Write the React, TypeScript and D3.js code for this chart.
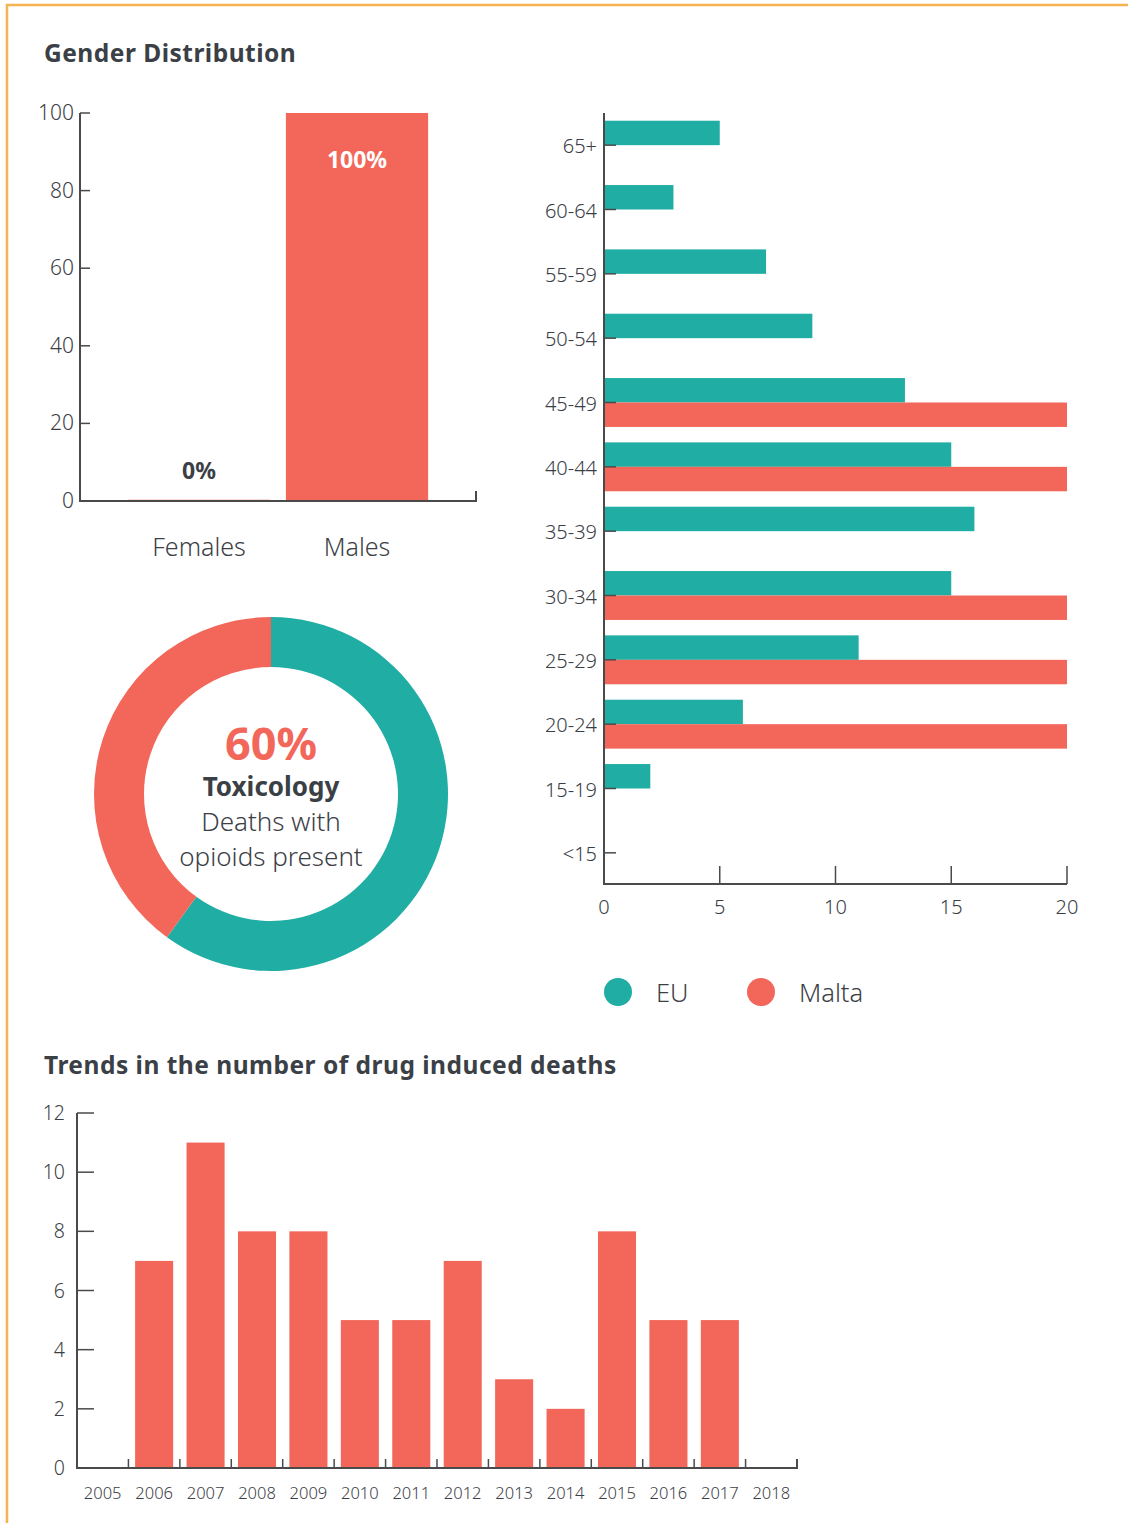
import React from "react";
import * as d3 from "d3";

const genderCats = ["Females", "Males"];
const genderVals = [0, 100];
const genderLabels = ["0%", "100%"];
const genderTicks = [0, 20, 40, 60, 80, 100];

const ageCats = ["65+", "60-64", "55-59", "50-54", "45-49", "40-44", "35-39", "30-34", "25-29", "20-24", "15-19", "<15"];
const euVals = [5, 3, 7, 9, 13, 15, 16, 15, 11, 6, 2, 0];
const maltaVals = [0, 0, 0, 0, 20, 20, 0, 20, 20, 20, 0, 0];
const ageTicks = [0, 5, 10, 15, 20];
const seriesNames = ["EU", "Malta"];

const toxShare = [60, 40];
const toxLabel = "60%";

const years = ["2005", "2006", "2007", "2008", "2009", "2010", "2011", "2012", "2013", "2014", "2015", "2016", "2017", "2018"];
const deaths = [0, 7, 11, 8, 8, 5, 5, 7, 3, 2, 8, 5, 5, 0];
const deathTicks = [0, 2, 4, 6, 8, 10, 12];

const TEAL = "#20ada3";
const RED = "#f2675a";
const TXT = "#3b4046";
const AX = "#4a4a4a";
const FONT = "'Noto Sans', 'Open Sans', sans-serif";

export default function App() {
  const gx = d3.scaleBand().domain(genderCats).range([80, 476]).paddingInner(0.1).paddingOuter(0.303);
  const gy = d3.scaleLinear().domain([0, 100]).range([501, 113]);

  const ay = d3.scaleBand().domain(ageCats).range([113, 885]).paddingInner(0.24).paddingOuter(0.12);
  const sub = d3.scaleBand().domain(seriesNames).range([0, ay.bandwidth()]);
  const ax = d3.scaleLinear().domain([0, 20]).range([604, 1067]);

  const pie = d3.pie<number>().sort(null)(toxShare);
  const arc = d3.arc<d3.PieArcDatum<number>>().innerRadius(127).outerRadius(177);

  const tx = d3.scaleBand().domain(years).range([77, 797]).paddingInner(0.26).paddingOuter(0.13);
  const ty = d3.scaleLinear().domain([0, 12]).range([1468, 1113]);
  const step = tx.step();

  return (
    <svg width={1128} height={1523} style={{ position: "absolute", left: 0, top: 0 }} fontFamily={FONT}>
      <rect width={1128} height={1523} fill="#fff" />
      <path d="M7,1523V5H1128" fill="none" stroke="#f5b352" strokeWidth={2.5} />

      <text x={44} y={62} fontSize={24.5} letterSpacing={0.5} fontWeight={700} fill={TXT}>Gender Distribution</text>

      {genderCats.map((c, i) => (
        <g key={c}>
          <rect x={gx(c)} y={gy(genderVals[i])} width={gx.bandwidth()} height={Math.max(0, gy(0) - gy(genderVals[i]))} fill={RED} />
          {genderVals[i] === 0 && (
            <line x1={gx(c)} x2={(gx(c) as number) + gx.bandwidth()} y1={gy(0) - 0.5} y2={gy(0) - 0.5} stroke={RED} strokeWidth={1.5} />
          )}
          <text
            x={(gx(c) as number) + gx.bandwidth() / 2}
            y={genderVals[i] === 0 ? gy(0) - 22 : gy(genderVals[i]) + 55}
            textAnchor="middle"
            fontSize={23}
            fontWeight={700}
            fill={genderVals[i] === 0 ? TXT : "#fff"}
          >
            {genderLabels[i]}
          </text>
          <text x={(gx(c) as number) + gx.bandwidth() / 2} y={556} textAnchor="middle" fontSize={25} fontWeight={300} fill={TXT}>{c}</text>
        </g>
      ))}
      <path d={`M80,${gy(100)}V${gy(0)}H476V${gy(0) - 10}`} fill="none" stroke={AX} strokeWidth={2} />
      {genderTicks.map((t) => (
        <g key={t}>
          <line x1={80} x2={90} y1={gy(t)} y2={gy(t)} stroke={AX} strokeWidth={1.5} />
          <text x={74} y={gy(t) + 7} textAnchor="end" fontSize={21} fontWeight={300} fill={TXT}>{t}</text>
        </g>
      ))}

      <g transform="translate(271,794)">
        {pie.map((p, i) => (
          <path key={i} d={arc(p) as string} fill={i === 0 ? TEAL : RED} />
        ))}
        <text y={-34} textAnchor="middle" fontSize={45} fontWeight={700} fill={RED}>{toxLabel}</text>
        <text y={2} textAnchor="middle" fontSize={26} fontWeight={700} fill={TXT}>Toxicology</text>
        <text y={37} textAnchor="middle" fontSize={26} fontWeight={300} fill={TXT}>Deaths with</text>
        <text y={72} textAnchor="middle" fontSize={26} fontWeight={300} fill={TXT}>opioids present</text>
      </g>

      {ageCats.map((c, i) => {
        const y0 = ay(c) as number;
        return (
          <g key={c}>
            {euVals[i] > 0 && (
              <rect x={ax(0)} y={y0 + (sub("EU") as number)} width={ax(euVals[i]) - ax(0)} height={sub.bandwidth()} fill={TEAL} />
            )}
            {maltaVals[i] > 0 && (
              <rect x={ax(0)} y={y0 + (sub("Malta") as number)} width={ax(maltaVals[i]) - ax(0)} height={sub.bandwidth()} fill={RED} />
            )}
            <line x1={604} x2={616} y1={y0 + ay.bandwidth() / 2} y2={y0 + ay.bandwidth() / 2} stroke={AX} strokeWidth={1.5} />
            <text x={597} y={y0 + ay.bandwidth() / 2 + 8} textAnchor="end" fontSize={20} fontWeight={300} fill={TXT}>{c}</text>
          </g>
        );
      })}
      <path d={`M604,113V884H1067`} fill="none" stroke={AX} strokeWidth={2} />
      {ageTicks.map((t) => (
        <g key={t}>
          {t > 0 && <line x1={ax(t)} x2={ax(t)} y1={884} y2={866} stroke={AX} strokeWidth={1.5} />}
          <text x={ax(t)} y={914} textAnchor="middle" fontSize={20} fontWeight={300} fill={TXT}>{t}</text>
        </g>
      ))}

      {seriesNames.map((s, i) => (
        <g key={s} transform={`translate(${618 + i * 143},992)`}>
          <circle r={14} fill={i === 0 ? TEAL : RED} />
          <text x={38} y={10} fontSize={25.5} fontWeight={300} fill={TXT}>{s}</text>
        </g>
      ))}

      <text x={44} y={1074} fontSize={24.5} letterSpacing={0.5} fontWeight={700} fill={TXT}>Trends in the number of drug induced deaths</text>

      {years.map((yr, i) => (
        <g key={yr}>
          {deaths[i] > 0 && (
            <rect x={tx(yr)} y={ty(deaths[i])} width={tx.bandwidth()} height={ty(0) - ty(deaths[i])} fill={RED} />
          )}
          <text x={(tx(yr) as number) + tx.bandwidth() / 2} y={1499} textAnchor="middle" fontSize={16.5} fontWeight={300} fill={TXT}>{yr}</text>
          {i > 0 && (
            <line x1={77 + i * step} x2={77 + i * step} y1={1468} y2={1459} stroke={AX} strokeWidth={1.5} />
          )}
        </g>
      ))}
      <path d={`M77,${ty(12)}V1468H797V1459`} fill="none" stroke={AX} strokeWidth={2} />
      {deathTicks.map((t) => (
        <g key={t}>
          <line x1={77} x2={94} y1={ty(t)} y2={ty(t)} stroke={AX} strokeWidth={1.5} />
          <text x={65} y={ty(t) + 7} textAnchor="end" fontSize={19.5} fontWeight={300} fill={TXT}>{t}</text>
        </g>
      ))}
    </svg>
  );
}
